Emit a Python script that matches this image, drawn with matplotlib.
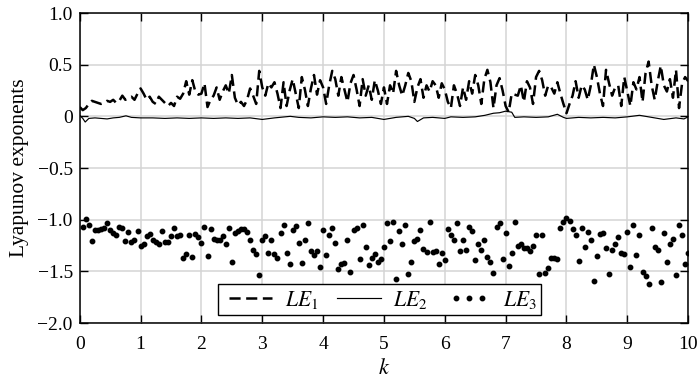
import numpy as np
import matplotlib
matplotlib.use("Agg")
import matplotlib.pyplot as plt
from matplotlib.ticker import FixedLocator, FuncFormatter
from matplotlib.legend_handler import HandlerLine2D

plt.rcParams["font.family"] = ["Liberation Serif", "DejaVu Serif"]
plt.rcParams["mathtext.fontset"] = "stix"
plt.rcParams["lines.scale_dashes"] = False

# --- data --- #

# LE1, sampled every 0.05 from k=0 to k=10
k1 = np.round(np.arange(0, 201) * 0.05, 2)
le1 = [
    0.09, 0.06, 0.08, 0.12, 0.15, 0.14, 0.13, 0.12, 0.13, 0.15,
    0.14, 0.16, 0.13, 0.15, 0.20, 0.16, 0.18, 0.19, 0.16, 0.22,
    0.27, 0.22, 0.16, 0.19, 0.14, 0.12, 0.19, 0.16, 0.13, 0.10,
    0.13, 0.10, 0.19, 0.17, 0.22, 0.34, 0.21, 0.35, 0.24, 0.21,
    0.22, 0.32, 0.09, 0.16, 0.20, 0.28, 0.16, 0.24, 0.30, 0.22,
    0.40, 0.18, 0.11, 0.14, 0.10, 0.16, 0.27, 0.20, 0.12, 0.44,
    0.28, 0.20, 0.32, 0.28, 0.33, 0.22, 0.08, 0.33, 0.10, 0.25,
    0.36, 0.22, 0.08, 0.38, 0.26, 0.10, 0.27, 0.40, 0.21, 0.35,
    0.28, 0.12, 0.30, 0.44, 0.36, 0.20, 0.38, 0.26, 0.14, 0.32,
    0.40, 0.26, 0.10, 0.36, 0.20, 0.30, 0.16, 0.35, 0.25, 0.12,
    0.28, 0.12, 0.30, 0.22, 0.44, 0.30, 0.20, 0.30, 0.42, 0.34,
    0.14, 0.28, 0.36, 0.18, 0.30, 0.24, 0.34, 0.30, 0.18, 0.32,
    0.26, 0.14, 0.08, 0.30, 0.22, 0.10, 0.28, 0.16, 0.34, 0.22,
    0.40, 0.30, 0.12, 0.36, 0.45, 0.33, 0.08, 0.30, 0.37, 0.25,
    0.10, 0.04, 0.22, 0.21, 0.20, 0.30, 0.14, 0.34, 0.28, 0.12,
    0.38, 0.44, 0.35, 0.20, 0.30, 0.28, 0.22, 0.33, 0.22, 0.12,
    0.03, 0.12, 0.20, 0.34, 0.18, 0.30, 0.26, 0.16, 0.30, 0.50,
    0.38, 0.22, 0.10, 0.45, 0.32, 0.20, 0.28, 0.30, 0.10, 0.38,
    0.24, 0.10, 0.33, 0.26, 0.38, 0.14, 0.42, 0.53, 0.30, 0.16,
    0.34, 0.49, 0.30, 0.24, 0.36, 0.18, 0.45, 0.08, 0.32, 0.38,
    0.34,
]

# LE2, thin line close to zero
k2 = [0.0, 0.05, 0.09, 0.15, 0.25, 0.35, 0.45, 0.55, 0.65, 0.76,
      0.85, 1.0, 1.2, 1.4, 1.6, 1.8, 2.0, 2.2, 2.4, 2.6,
      2.8, 3.0, 3.2, 3.46, 3.6, 3.8, 4.0, 4.2, 4.4, 4.6,
      4.8, 5.0, 5.2, 5.4, 5.5, 5.55, 5.65, 5.8, 6.0, 6.1,
      6.3, 6.5, 6.66, 6.8, 6.9, 7.0, 7.1, 7.15, 7.3, 7.5,
      7.7, 7.85, 7.95, 8.0, 8.2, 8.4, 8.6, 8.8, 9.0, 9.2,
      9.4, 9.6, 9.8, 9.93, 10.0]
le2 = [0.01, -0.02, -0.055, -0.02, -0.015, -0.02, -0.025, -0.015, -0.01, 0.005,
       -0.01, -0.015, -0.015, -0.02, -0.015, -0.02, -0.015, -0.02, -0.015, -0.02,
       -0.015, -0.03, -0.015, 0.0, -0.01, -0.015, -0.005, -0.01, -0.005, -0.015,
       -0.01, -0.03, -0.01, 0.0, -0.02, -0.05, -0.015, -0.01, -0.02, -0.005,
       -0.01, -0.005, 0.01, 0.03, 0.035, 0.05, 0.04, -0.01, -0.005, -0.01,
       -0.005, 0.02, -0.01, -0.02, -0.01, -0.015, -0.01, -0.015, -0.005, 0.01,
       -0.01, -0.03, -0.015, -0.025, -0.005]

# LE3, dots every 0.05 from k=0.05 to k=10
k3 = np.round(np.arange(1, 201) * 0.05, 2)
le3 = [
    -1.074, -0.99, -1.05, -1.21, -1.10, -1.10, -1.09, -1.08, -1.035, -1.10,
    -1.13, -1.15, -1.07, -1.08, -1.21, -1.12, -1.22, -1.20, -1.11, -1.25,
    -1.24, -1.16, -1.14, -1.20, -1.22, -1.235, -1.11, -1.22, -1.22, -1.155,
    -1.08, -1.16, -1.15, -1.37, -1.33, -1.145, -1.36, -1.14, -1.17, -1.23,
    -1.07, -1.35, -1.09, -1.19, -1.20, -1.20, -1.16, -1.24, -1.08, -1.41,
    -1.126, -1.106, -1.087, -1.09, -1.12, -1.20, -1.29, -1.335, -1.535, -1.20,
    -1.16, -1.32, -1.20, -1.335, -1.37, -1.13, -1.055, -1.32, -1.43, -1.10,
    -1.065, -1.226, -1.416, -1.20, -1.03, -1.30, -1.345, -1.306, -1.46, -1.10,
    -1.34, -1.15, -1.08, -1.226, -1.48, -1.43, -1.42, -1.20, -1.506, -1.10,
    -1.077, -1.377, -1.055, -1.26, -1.44, -1.37, -1.33, -1.41, -1.38, -1.26,
    -1.035, -1.21, -1.02, -1.574, -1.11, -1.24, -1.055, -1.53, -1.41, -1.21,
    -1.19, -1.10, -1.28, -1.31, -1.02, -1.31, -1.30, -1.43, -1.32, -1.39,
    -1.087, -1.15, -1.20, -1.035, -1.306, -1.20, -1.29, -1.068, -1.106, -1.39,
    -1.24, -1.29, -1.20, -1.36, -1.41, -1.516, -1.07, -1.035, -1.38, -1.13,
    -1.45, -1.32, -1.02, -1.25, -1.235, -1.27, -1.27, -1.30, -1.255, -1.15,
    -1.526, -1.15, -1.52, -1.47, -1.374, -1.374, -1.384, -1.084, -1.023, -0.987,
    -1.013, -1.094, -1.145, -1.397, -1.08, -1.265, -1.116, -1.197, -1.594, -1.355,
    -1.139, -1.126, -1.27, -1.53, -1.294, -1.232, -1.171, -1.326, -1.332, -1.116,
    -1.461, -1.05, -1.342, -1.148, -1.51, -1.545, -1.623, -1.084, -1.26, -1.294,
    -1.606, -1.132, -1.406, -1.232, -1.19, -1.535, -1.05, -1.15, -1.432, -1.32,
]

y_ticks = [1.0, 0.5, 0.0, -0.5, -1.0, -1.5, -2.0]
x_ticks = list(range(0, 11))


def y_fmt(v, pos):
    if abs(v) < 1e-9:
        return "0"
    return f"{v:.1f}".replace("-", "\u2212")


fig = plt.figure(figsize=(7.0, 3.86), dpi=100)
ax = fig.add_axes([0.1139, 0.1632, 0.8692, 0.8031])

ax.plot(k1, le1, color="black", lw=1.8, linestyle=(0, (8, 4)), label="$LE_1$")
ax.plot(k2, le2, color="black", lw=0.85, label="$LE_2$")
dots, = ax.plot(k3, le3, color="black", ls="none", marker="o", ms=3.2,
                label="$LE_3$")

ax.set_xlim(0, 10)
ax.set_ylim(-2.0, 1.0)
ax.xaxis.set_major_locator(FixedLocator(x_ticks))
ax.yaxis.set_major_locator(FixedLocator(y_ticks))
ax.yaxis.set_major_formatter(FuncFormatter(y_fmt))

ax.grid(True, color="#d4d4d4", lw=1.1)
ax.set_axisbelow(True)
ax.tick_params(direction="in", length=5.5, width=1.0, top=True, right=True,
               labelsize=14, pad=5)
ax.tick_params(axis="x", pad=9)
for s in ax.spines.values():
    s.set_linewidth(1.1)

ax.set_xlabel("$k$", fontsize=16, labelpad=5)
ax.set_ylabel("Lyapunov exponents", fontsize=15.5, labelpad=6)

leg = ax.legend(loc="lower left", bbox_to_anchor=(0.2274, 0.0258),
                borderaxespad=0, ncol=3, numpoints=3, fancybox=False,
                framealpha=1, edgecolor="black", fontsize=15.5,
                handlelength=2.6, columnspacing=0.6, handletextpad=0.3,
                borderpad=0.2,
                handler_map={dots: HandlerLine2D(numpoints=3, marker_pad=0.7)})
leg.get_frame().set_linewidth(1.0)

fig.savefig("out.png", dpi=100)
